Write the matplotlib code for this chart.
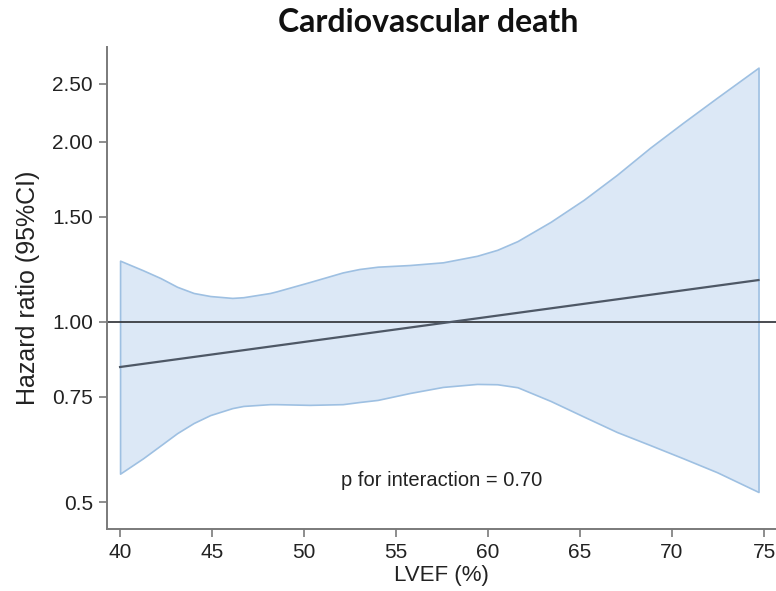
import numpy as np
import matplotlib.pyplot as plt
from matplotlib.ticker import FixedLocator, FixedFormatter, NullLocator

# LVEF grid and 95% CI bounds of the hazard ratio
lvef = [40.0, 41.25, 42.2, 43.1, 44.0, 44.9, 46.1, 46.7, 48.15, 48.5, 50.3,
        52.1, 53.0, 54.0, 55.75, 57.55, 59.4, 60.5, 61.6, 63.4, 65.2, 67.0,
        68.8, 70.6, 72.45, 74.7]
ci_upper = [1.266, 1.22, 1.184, 1.145, 1.118, 1.105, 1.097, 1.10, 1.118,
            1.125, 1.166, 1.21, 1.226, 1.237, 1.245, 1.258, 1.29, 1.32,
            1.365, 1.47, 1.60, 1.761, 1.954, 2.152, 2.37, 2.66]
ci_lower = [0.558, 0.592, 0.622, 0.652, 0.678, 0.699, 0.718, 0.724, 0.729,
            0.729, 0.727, 0.729, 0.735, 0.741, 0.761, 0.779, 0.788, 0.787,
            0.778, 0.738, 0.695, 0.655, 0.623, 0.592, 0.561, 0.520]

# point estimate (log-linear in LVEF)
hr_x = [40.0, 74.7]
hr = [0.841, 1.175]

yticks = [0.5, 0.75, 1.0, 1.5, 2.0, 2.5]
ytick_labels = ["0.5", "0.75", "1.00", "1.50", "2.00", "2.50"]
xticks = [40, 45, 50, 55, 60, 65, 70, 75]

plt.rcParams['font.family'] = ['Liberation Sans', 'DejaVu Sans']

fig = plt.figure(figsize=(7.76, 5.91), dpi=100)
ax = fig.add_axes([0.1379, 0.1049, 0.8621, 0.8156])

ax.fill_between(lvef, ci_lower, ci_upper, facecolor='#dce8f6',
                edgecolor='#9ec0e2', linewidth=1.2, zorder=1)
ax.axhline(1.0, color='#3a3d42', linewidth=1.3, zorder=2)
ax.plot(hr_x, hr, color='#4e5866', linewidth=1.6, zorder=3)

ax.set_yscale('log')
ax.set_ylim(0.451, 2.88)
ax.set_xlim(39.29, 75.65)

ax.yaxis.set_major_locator(FixedLocator(yticks))
ax.yaxis.set_major_formatter(FixedFormatter(ytick_labels))
ax.yaxis.set_minor_locator(NullLocator())
ax.set_xticks(xticks)

for side in ['top', 'right']:
    ax.spines[side].set_visible(False)
for side in ['left', 'bottom']:
    ax.spines[side].set_color('#7a7a7a')
    ax.spines[side].set_linewidth(1.4)

ax.tick_params(axis='both', direction='out', length=6, width=1.2,
               color='#7a7a7a', labelsize=15, labelcolor='#222222', pad=4)

ax.set_xlabel('LVEF (%)', fontsize=16, color='#222222', labelpad=2)
ax.set_ylabel('Hazard ratio (95%CI)', fontsize=18, color='#222222', labelpad=9)

ax.text(57.45, 0.544, 'p for interaction = 0.70', fontsize=14.5,
        color='#222222', ha='center', va='center')

fig.text(0.5515, 0.962, 'Cardiovascular death', fontsize=23,
         fontweight='bold', family=['Lato', 'DejaVu Sans'],
         ha='center', va='center', color='#111111')

fig.savefig('out.png', dpi=100)
